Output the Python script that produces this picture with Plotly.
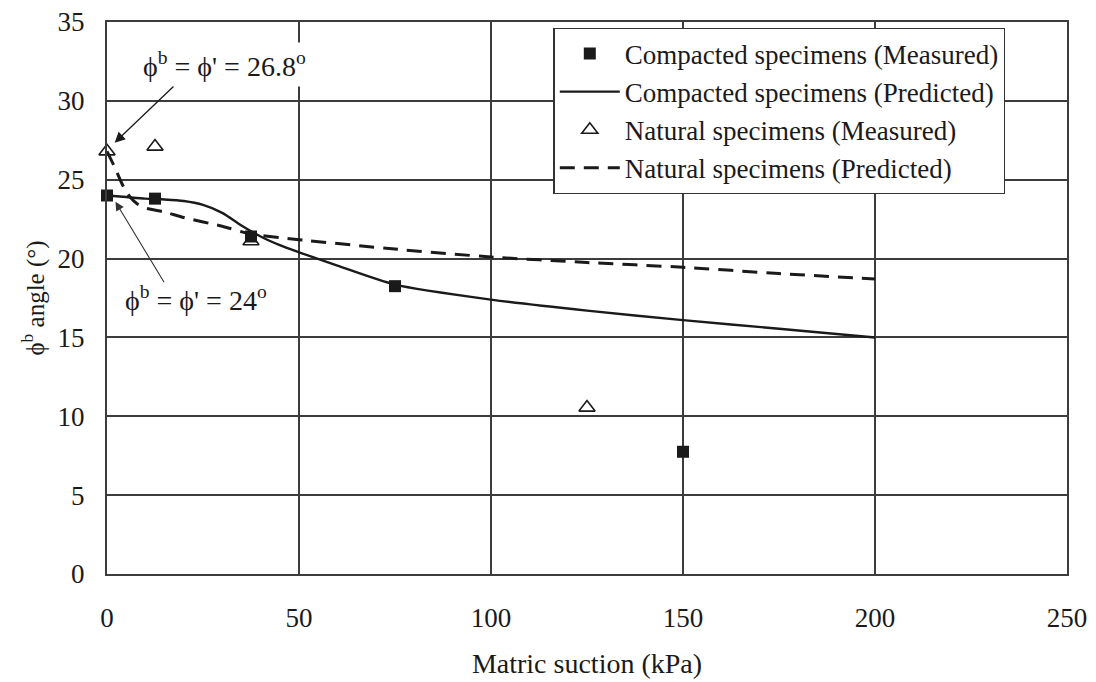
import plotly.graph_objects as go

# --- data ---
comp_meas_x = [0, 12.5, 37.5, 75, 150]
comp_meas_y = [24.0, 23.8, 21.4, 18.25, 7.75]

nat_meas_x = [0, 12.5, 37.5, 125]
nat_meas_y = [26.8, 27.1, 21.1, 10.55]

comp_pred_x = [0, 5, 10, 15, 20, 25, 30, 35, 40, 45, 50, 60, 75, 100, 125, 150, 175, 200]
comp_pred_y = [24.0, 23.9, 23.8, 23.75, 23.65, 23.4, 22.9, 22.1, 21.4, 20.85, 20.4, 19.55, 18.35, 17.4, 16.7, 16.1, 15.55, 15.0]

nat_pred_x = [0, 2, 4, 6, 8, 10, 15, 20, 30, 37.5, 50, 75, 100, 125, 150, 175, 200]
nat_pred_y = [26.8, 25.8, 24.7, 23.9, 23.45, 23.2, 22.95, 22.6, 22.05, 21.55, 21.2, 20.6, 20.1, 19.75, 19.45, 19.05, 18.7]

x_ticks = [0, 50, 100, 150, 200, 250]
y_ticks = [0, 5, 10, 15, 20, 25, 30, 35]

FONT = "Liberation Serif, Times New Roman, serif"
INK = "#1a1a1a"
GRID = "#3c3c3c"
PHI = "\u03d5"

fig = go.Figure()

fig.add_trace(go.Scatter(
    x=comp_meas_x, y=comp_meas_y, mode="markers",
    name="Compacted specimens (Measured)", legendgroup="a", cliponaxis=False,
    marker=dict(symbol="square", size=12, color=INK, line=dict(width=0)),
))
fig.add_trace(go.Scatter(
    x=comp_pred_x, y=comp_pred_y, mode="lines",
    name="Compacted specimens (Predicted)", legendgroup="b",
    line=dict(color=INK, width=2.4, shape="spline", smoothing=0.7),
))
fig.add_trace(go.Scatter(
    x=nat_meas_x, y=nat_meas_y, mode="markers",
    name="Natural specimens (Measured)", legendgroup="c", cliponaxis=False,
    marker=dict(symbol="triangle-up-open", size=14, color=INK, line=dict(width=1.6, color=INK)),
))
fig.add_trace(go.Scatter(
    x=nat_pred_x, y=nat_pred_y, mode="lines",
    name="Natural specimens (Predicted)", legendgroup="d",
    line=dict(color=INK, width=3, dash="15px,9px", shape="spline", smoothing=0.6),
))

# annotation texts (white background hides gridlines like the reference)
fig.add_annotation(x=30.5, y=32.3, xref="x", yref="y",
                   text=PHI + "<sup>b</sup> = " + PHI + "' = 26.8<sup>o</sup>", showarrow=False,
                   bgcolor="white", font=dict(family=FONT, size=28, color=INK), borderpad=4)
fig.add_annotation(x=23.3, y=17.5, xref="x", yref="y",
                   text=PHI + "<sup>b</sup> = " + PHI + "' = 24<sup>o</sup>", showarrow=False,
                   bgcolor="white", font=dict(family=FONT, size=28, color=INK), borderpad=4)
# arrows
fig.add_annotation(x=2.0, y=27.35, ax=17.7, ay=31.0, xref="x", yref="y", axref="x", ayref="y",
                   text="", showarrow=True, arrowhead=2, arrowsize=1.6, arrowwidth=1.3,
                   arrowcolor=INK)
fig.add_annotation(x=2.2, y=23.6, ax=15.1, ay=18.4, xref="x", yref="y", axref="x", ayref="y",
                   text="", showarrow=True, arrowhead=2, arrowsize=1.6, arrowwidth=1.1,
                   arrowcolor="#333")

# the page body adds an 8px margin, so the figure is offset to compensate
fig.update_layout(
    width=1088, height=674,
    margin=dict(l=99, r=29, t=14, b=108),
    paper_bgcolor="white", plot_bgcolor="white",
    font=dict(family=FONT, size=26, color=INK),
    showlegend=True,
    legend=dict(
        x=0.465, y=0.989, xanchor="left", yanchor="top",
        bgcolor="white", bordercolor="#333", borderwidth=1.4,
        font=dict(family=FONT, size=27, color=INK),
        tracegroupgap=0, traceorder="grouped", itemwidth=60,
    ),
    xaxis=dict(
        range=[0, 250], tickvals=x_ticks, ticktext=[str(v) for v in x_ticks],
        showgrid=True, gridcolor=GRID, gridwidth=1.8,
        showline=True, linecolor=GRID, linewidth=2.2, mirror=True,
        zeroline=False, ticks="", ticklabelstandoff=18, ticklabeloverflow="allow",
        tickfont=dict(family=FONT, size=27, color=INK),
        title=dict(text="Matric suction (kPa)", standoff=22,
                   font=dict(family=FONT, size=28, color=INK)),
        automargin=False,
    ),
    yaxis=dict(
        range=[0, 35], tickvals=y_ticks, ticktext=[str(v) for v in y_ticks],
        showgrid=True, gridcolor=GRID, gridwidth=1.8,
        showline=True, linecolor=GRID, linewidth=2.2, mirror=True,
        zeroline=False, ticks="", ticklabelstandoff=15, ticklabeloverflow="allow",
        tickfont=dict(family=FONT, size=27, color=INK),
        title=dict(text=PHI + "<sup>b</sup> angle (°)", standoff=6,
                   font=dict(family=FONT, size=25, color=INK)),
        automargin=False,
    ),
)

fig.write_html("out.html")
